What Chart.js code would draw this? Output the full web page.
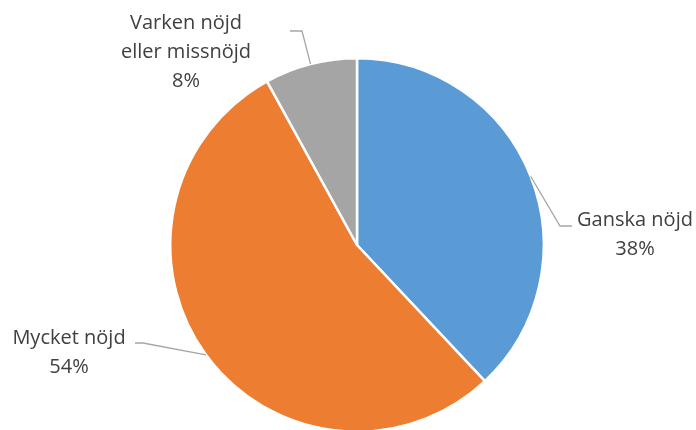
<!DOCTYPE html>
<html>
<head>
<meta charset="utf-8">
<script src="https://cdn.jsdelivr.net/npm/chart.js@4"></script>
<style>
  html, body { margin: 0; padding: 0; overflow: hidden; background: #fff; }
  #wrap { position: absolute; left: 0; top: 0; width: 696px; height: 440px; }
</style>
</head>
<body>
<div id="wrap"><canvas id="pieChart"></canvas></div>
<script>
// data
const categories = ["Ganska nöjd", "Mycket nöjd", "Varken nöjd eller missnöjd"];
const shares = [38, 54, 8];
const sliceColors = ["#5B9BD5", "#ED7D31", "#A5A5A5"];

// label text lines and where the leader line bends / the text sits
const labelLines = [
  ["Ganska nöjd", "38%"],
  ["Mycket nöjd", "54%"],
  ["Varken nöjd", "eller missnöjd", "8%"],
];
const labelLayout = [
  { elbow: [560, 226], end: [572, 226], x: 635, y: 220 },
  { elbow: [143, 343], end: [135, 343], x: 69, y: 338 },
  { elbow: [302, 31], end: [290, 31], x: 186, y: 23 },
];

const LABEL_FONT = "20px 'Open Sans', sans-serif";
const LINE_GAP = 29;

const calloutLabels = {
  id: "calloutLabels",
  afterDatasetsDraw(chart) {
    const ctx = chart.ctx;
    const arcs = chart.getDatasetMeta(0).data;
    ctx.save();
    arcs.forEach((arc, i) => {
      const mid = (arc.startAngle + arc.endAngle) / 2;
      const sx = arc.x + Math.cos(mid) * arc.outerRadius;
      const sy = arc.y + Math.sin(mid) * arc.outerRadius;
      const lay = labelLayout[i];
      ctx.strokeStyle = "#A6A6A6";
      ctx.lineWidth = 1.3;
      ctx.beginPath();
      ctx.moveTo(sx, sy);
      ctx.lineTo(lay.elbow[0], lay.elbow[1]);
      ctx.lineTo(lay.end[0], lay.end[1]);
      ctx.stroke();

      ctx.fillStyle = "#404040";
      ctx.font = LABEL_FONT;
      ctx.textAlign = "center";
      ctx.textBaseline = "middle";
      labelLines[i].forEach((line, j) => {
        ctx.fillText(line, lay.x, lay.y + j * LINE_GAP);
      });
    });
    ctx.restore();
  },
};

new Chart(document.getElementById("pieChart"), {
  type: "pie",
  data: {
    labels: categories,
    datasets: [
      {
        data: shares,
        backgroundColor: sliceColors,
        borderColor: "#ffffff",
        borderWidth: 2.5,
      },
    ],
  },
  options: {
    responsive: true,
    maintainAspectRatio: false,
    animation: false,
    layout: {
      padding: { left: 169, right: 151, top: 57, bottom: 7 },
    },
    plugins: {
      legend: { display: false },
      tooltip: { enabled: false },
    },
  },
  plugins: [calloutLabels],
});
</script>
</body>
</html>
